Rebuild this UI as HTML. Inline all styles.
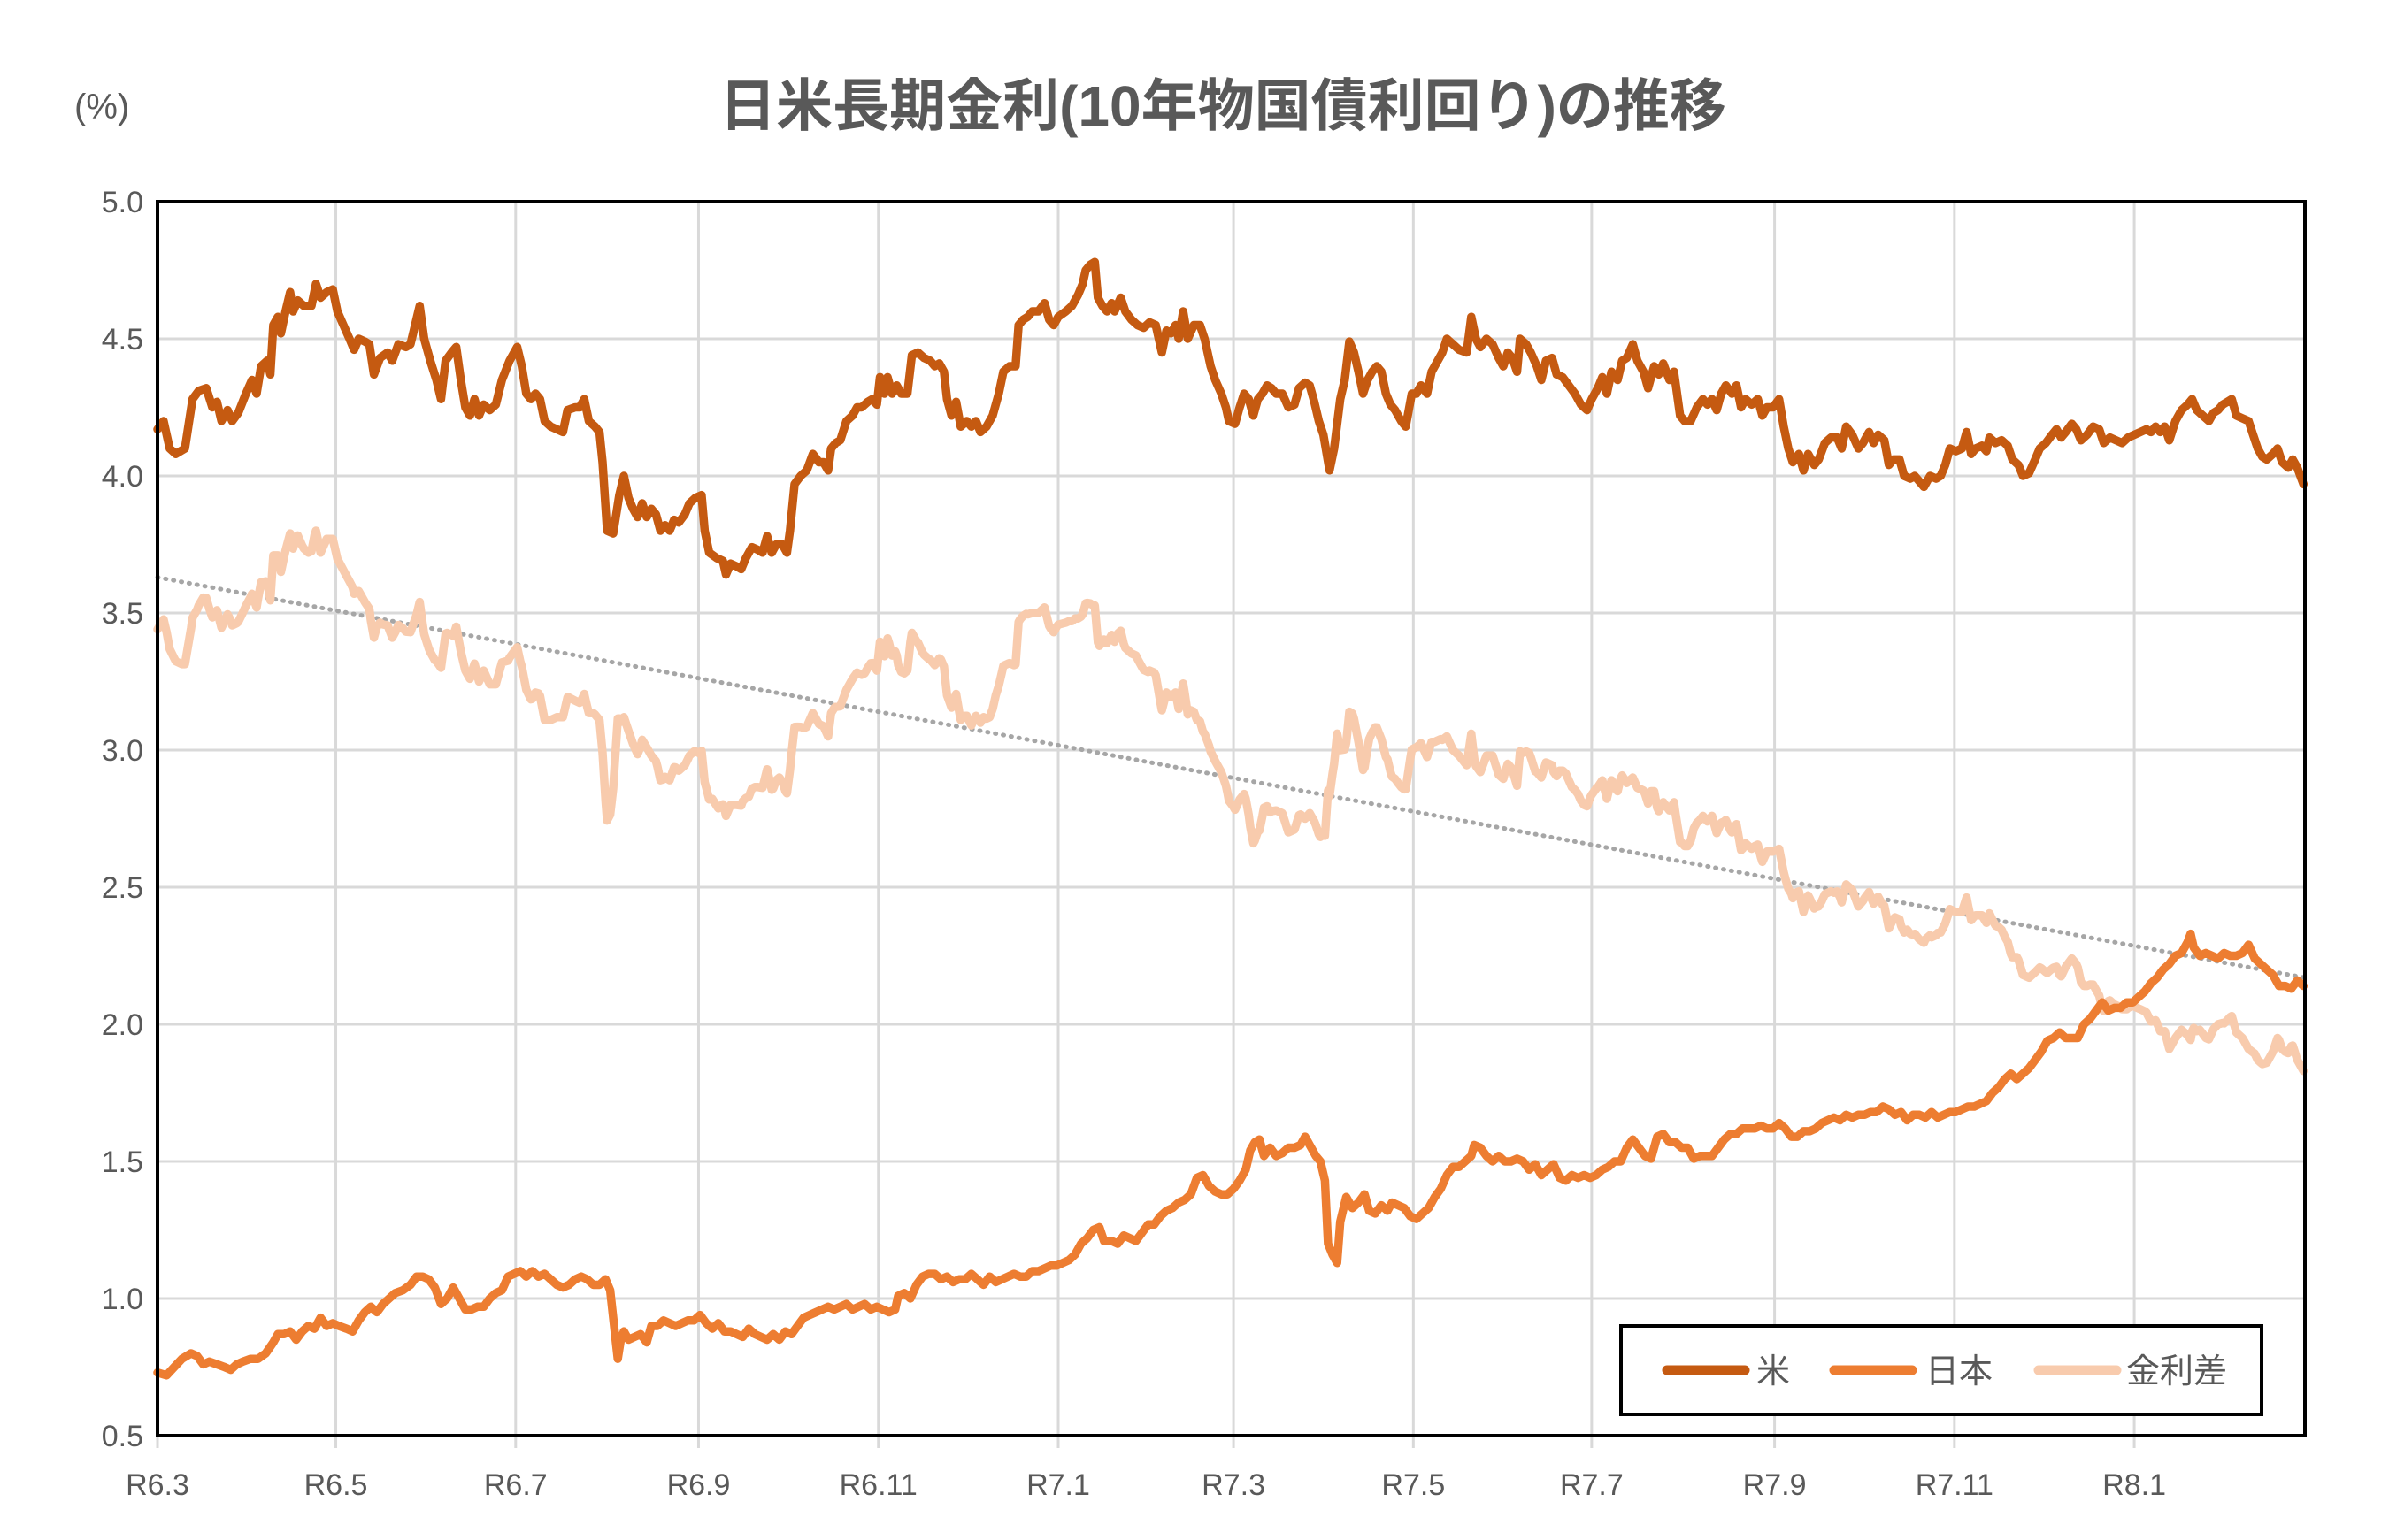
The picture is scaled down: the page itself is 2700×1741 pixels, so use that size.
<!DOCTYPE html>
<html><head><meta charset="utf-8"><style>
html,body{margin:0;padding:0;background:#fff;}
svg{display:block;}
text{font-family:"Liberation Sans","Noto Sans CJK JP",sans-serif;fill:#595959;}
</style></head><body>
<svg id="c" width="2700" height="1741" xmlns="http://www.w3.org/2000/svg"></svg>
<script>
const US=[104,4.17,108,4.2,112,4.1,116,4.08,122,4.1,127,4.28,131,4.31,136,4.32,140,4.25,143,4.27,146,4.2,150,4.24,153,4.2,157,4.23,162,4.3,166,4.35,169,4.3,172,4.4,176,4.42,178,4.37,180,4.55,183,4.58,185,4.52,188,4.6,191,4.67,193,4.6,196,4.64,200,4.62,205,4.62,208,4.7,211,4.65,215,4.67,219,4.68,222,4.6,226,4.55,230,4.5,233,4.46,236,4.5,240,4.49,243,4.48,246,4.37,250,4.43,255,4.45,258,4.42,262,4.48,267,4.47,270,4.48,273,4.55,276,4.62,279,4.5,283,4.42,287,4.35,290,4.28,293,4.42,297,4.45,300,4.47,303,4.35,306,4.25,309,4.22,312,4.28,315,4.22,318,4.26,322,4.24,326,4.26,330,4.35,335,4.42,340,4.47,343,4.4,346,4.3,349,4.28,352,4.3,355,4.28,358,4.2,362,4.18,366,4.17,370,4.16,373,4.24,378,4.25,381,4.25,384,4.28,387,4.2,391,4.18,394,4.16,396,4.05,399,3.8,403,3.79,407,3.93,410,4.0,413,3.92,416,3.88,419,3.85,422,3.9,425,3.85,428,3.88,431,3.86,434,3.8,437,3.82,440,3.8,443,3.84,446,3.83,450,3.86,453,3.9,457,3.92,461,3.93,463,3.8,466,3.72,471,3.7,475,3.69,477,3.64,480,3.68,484,3.67,487,3.66,490,3.7,494,3.74,498,3.73,501,3.72,504,3.78,507,3.72,510,3.75,514,3.75,517,3.72,519,3.8,522,3.97,526,4.0,530,4.02,534,4.08,538,4.05,541,4.05,544,4.02,546,4.1,549,4.12,552,4.13,556,4.2,560,4.22,563,4.25,566,4.25,570,4.27,573,4.28,576,4.26,578,4.36,581,4.3,583,4.36,586,4.3,589,4.33,592,4.3,596,4.3,599,4.44,603,4.45,607,4.43,611,4.42,614,4.4,617,4.41,620,4.38,622,4.28,625,4.22,628,4.27,631,4.18,635,4.2,638,4.18,641,4.2,644,4.16,648,4.18,652,4.22,656,4.3,659,4.38,663,4.4,667,4.4,669,4.55,672,4.57,675,4.58,678,4.6,682,4.6,686,4.63,689,4.57,692,4.55,695,4.58,700,4.6,704,4.62,708,4.66,711,4.7,713,4.75,716,4.77,719,4.78,721,4.65,724,4.62,727,4.6,730,4.63,732,4.6,736,4.65,739,4.6,743,4.57,747,4.55,751,4.54,755,4.56,759,4.55,763,4.45,766,4.53,769,4.52,772,4.55,774,4.5,777,4.6,780,4.5,784,4.55,788,4.55,791,4.5,795,4.4,798,4.35,802,4.3,805,4.25,807,4.2,811,4.19,814,4.25,817,4.3,820,4.28,823,4.22,826,4.28,829,4.3,832,4.33,835,4.32,838,4.3,842,4.3,846,4.25,850,4.26,853,4.32,857,4.34,860,4.33,863,4.27,866,4.2,869,4.15,873,4.02,876,4.1,880,4.28,883,4.35,886,4.49,889,4.45,892,4.38,895,4.3,898,4.35,901,4.38,904,4.4,907,4.38,910,4.3,913,4.26,916,4.24,920,4.2,923,4.18,927,4.3,930,4.3,933,4.33,937,4.3,940,4.38,944,4.42,947,4.45,950,4.5,954,4.48,958,4.46,963,4.45,966,4.58,969,4.5,972,4.47,976,4.5,980,4.48,984,4.43,987,4.4,990,4.45,993,4.43,996,4.38,998,4.5,1002,4.48,1005,4.45,1009,4.4,1012,4.35,1015,4.42,1019,4.43,1022,4.37,1026,4.36,1030,4.33,1034,4.3,1038,4.26,1042,4.24,1045,4.28,1049,4.32,1052,4.36,1055,4.3,1058,4.38,1062,4.35,1065,4.42,1068,4.43,1072,4.48,1075,4.42,1079,4.38,1082,4.32,1086,4.4,1089,4.37,1092,4.41,1096,4.35,1099,4.38,1103,4.22,1106,4.2,1110,4.2,1114,4.25,1118,4.28,1121,4.26,1124,4.28,1127,4.24,1130,4.3,1133,4.33,1137,4.3,1140,4.33,1143,4.25,1146,4.28,1150,4.26,1154,4.28,1157,4.22,1160,4.25,1164,4.25,1168,4.28,1171,4.18,1174,4.1,1177,4.05,1181,4.08,1184,4.02,1187,4.08,1191,4.04,1194,4.06,1198,4.12,1202,4.14,1206,4.14,1209,4.1,1212,4.18,1216,4.15,1220,4.1,1223,4.12,1227,4.16,1230,4.12,1233,4.15,1237,4.13,1240,4.04,1243,4.06,1247,4.06,1250,4.0,1254,3.99,1257,4.0,1260,3.98,1263,3.96,1267,4.0,1271,3.99,1274,4.0,1277,4.04,1280,4.1,1284,4.09,1288,4.1,1291,4.16,1294,4.08,1297,4.1,1301,4.11,1304,4.09,1306,4.14,1310,4.12,1314,4.13,1318,4.11,1321,4.06,1325,4.04,1328,4.0,1332,4.01,1336,4.06,1339,4.1,1343,4.12,1347,4.15,1350,4.17,1353,4.14,1356,4.16,1360,4.19,1363,4.17,1366,4.13,1370,4.15,1374,4.18,1378,4.17,1381,4.12,1385,4.14,1389,4.13,1393,4.12,1397,4.14,1401,4.15,1405,4.16,1409,4.17,1412,4.16,1415,4.18,1418,4.16,1421,4.18,1424,4.13,1428,4.2,1432,4.24,1436,4.26,1439,4.28,1442,4.24,1446,4.22,1450,4.2,1453,4.23,1456,4.24,1459,4.26,1462,4.27,1465,4.28,1468,4.22,1472,4.21,1476,4.2,1479,4.15,1482,4.1,1485,4.07,1488,4.06,1492,4.08,1495,4.1,1498,4.05,1502,4.03,1505,4.06,1508,4.03,1512,3.97];
const JP=[104,0.73,110,0.72,115,0.75,120,0.78,126,0.8,130,0.79,134,0.76,138,0.77,143,0.76,148,0.75,152,0.74,156,0.76,160,0.77,165,0.78,170,0.78,175,0.8,180,0.84,183,0.87,187,0.87,191,0.88,195,0.85,199,0.88,203,0.9,207,0.89,211,0.93,215,0.9,219,0.91,223,0.9,228,0.89,232,0.88,236,0.92,240,0.95,244,0.97,248,0.95,252,0.98,256,1.0,260,1.02,265,1.03,270,1.05,274,1.08,278,1.08,282,1.07,286,1.04,290,0.98,294,1.0,298,1.04,302,1.0,306,0.96,310,0.96,314,0.97,318,0.97,322,1.0,326,1.02,330,1.03,334,1.08,338,1.09,342,1.1,346,1.08,350,1.1,354,1.08,358,1.09,362,1.07,366,1.05,370,1.04,374,1.05,378,1.07,382,1.08,386,1.07,390,1.05,394,1.05,398,1.07,401,1.03,404,0.88,406,0.78,408,0.85,410,0.88,413,0.85,417,0.86,421,0.87,425,0.84,428,0.9,432,0.9,436,0.92,440,0.91,444,0.9,448,0.91,452,0.92,456,0.92,460,0.94,464,0.91,468,0.89,472,0.91,476,0.88,480,0.88,484,0.87,488,0.86,492,0.89,496,0.87,500,0.86,504,0.85,508,0.87,512,0.85,516,0.88,520,0.87,524,0.9,528,0.93,532,0.94,536,0.95,540,0.96,544,0.97,548,0.96,552,0.97,556,0.98,560,0.96,564,0.97,568,0.98,572,0.96,576,0.97,580,0.96,584,0.95,588,0.96,590,1.01,594,1.02,598,1.0,602,1.05,606,1.08,610,1.09,614,1.09,618,1.07,622,1.08,626,1.06,630,1.07,634,1.07,638,1.09,642,1.07,646,1.05,650,1.08,654,1.06,658,1.07,662,1.08,666,1.09,670,1.08,674,1.08,678,1.1,682,1.1,686,1.11,690,1.12,694,1.12,698,1.13,702,1.14,706,1.16,710,1.2,714,1.22,718,1.25,722,1.26,725,1.21,730,1.21,734,1.2,738,1.23,742,1.22,746,1.21,750,1.24,754,1.27,758,1.27,762,1.3,766,1.32,770,1.33,774,1.35,778,1.36,782,1.38,786,1.44,790,1.45,794,1.41,798,1.39,802,1.38,806,1.38,810,1.4,814,1.43,818,1.47,821,1.54,824,1.57,827,1.58,830,1.52,834,1.55,838,1.52,842,1.53,846,1.55,850,1.55,854,1.56,857,1.59,860,1.56,864,1.52,867,1.5,870,1.43,872,1.2,875,1.16,878,1.13,880,1.28,884,1.37,888,1.33,892,1.35,896,1.38,899,1.32,903,1.31,907,1.34,911,1.32,914,1.35,918,1.34,922,1.33,926,1.3,930,1.29,934,1.31,938,1.33,942,1.37,946,1.4,950,1.45,954,1.48,958,1.48,962,1.5,966,1.52,968,1.56,972,1.55,976,1.52,980,1.5,984,1.52,988,1.5,992,1.5,996,1.51,1000,1.5,1004,1.47,1008,1.49,1012,1.45,1016,1.47,1020,1.49,1024,1.44,1028,1.43,1032,1.45,1036,1.44,1040,1.45,1044,1.44,1048,1.45,1052,1.47,1056,1.48,1060,1.5,1064,1.5,1068,1.55,1072,1.58,1076,1.55,1080,1.52,1084,1.51,1088,1.59,1092,1.6,1096,1.57,1100,1.57,1104,1.55,1108,1.55,1112,1.51,1116,1.52,1120,1.52,1124,1.52,1128,1.55,1132,1.58,1136,1.6,1140,1.6,1144,1.62,1148,1.62,1152,1.62,1156,1.63,1160,1.62,1164,1.62,1168,1.64,1172,1.62,1176,1.59,1180,1.59,1184,1.61,1188,1.61,1192,1.62,1196,1.64,1200,1.65,1204,1.66,1208,1.65,1212,1.67,1216,1.66,1220,1.67,1224,1.67,1228,1.68,1232,1.68,1236,1.7,1240,1.69,1244,1.67,1248,1.68,1252,1.65,1256,1.67,1260,1.67,1264,1.66,1268,1.68,1272,1.66,1276,1.67,1280,1.68,1284,1.68,1288,1.69,1292,1.7,1296,1.7,1300,1.71,1304,1.72,1308,1.75,1312,1.77,1316,1.8,1320,1.82,1324,1.8,1328,1.82,1332,1.84,1336,1.87,1340,1.9,1344,1.94,1348,1.95,1352,1.97,1356,1.95,1360,1.95,1364,1.95,1368,2.0,1372,2.02,1376,2.05,1380,2.08,1384,2.05,1388,2.06,1392,2.06,1396,2.08,1400,2.08,1404,2.1,1408,2.12,1412,2.15,1416,2.17,1420,2.2,1424,2.22,1428,2.25,1432,2.26,1436,2.3,1438,2.33,1440,2.28,1444,2.25,1448,2.26,1452,2.25,1456,2.24,1460,2.26,1464,2.25,1468,2.25,1472,2.26,1476,2.29,1480,2.24,1484,2.22,1488,2.2,1492,2.18,1496,2.14,1500,2.14,1504,2.13,1508,2.16,1512,2.14];
const L=178,R=2605,T=228,B=1623;
const X=dx=>L+(dx-104)*(R-L)/(1513-104);
const Y=v=>T+(5-v)*(B-T)/4.5;
function interp(a,x){for(let i=0;i<a.length-2;i+=2){if(x<=a[i+2]){const t=(x-a[i])/(a[i+2]-a[i]);return a[i+1]+t*(a[i+3]-a[i+1]);}}return a[a.length-1];}
function path(a){let d='';for(let i=0;i<a.length;i+=2)d+=(i?'L':'M')+X(a[i]).toFixed(1)+','+Y(a[i+1]).toFixed(1);return d;}
const SP=[];const xs=new Set();for(let i=0;i<US.length;i+=2)xs.add(US[i]);for(let i=0;i<JP.length;i+=2)xs.add(JP[i]);
[...xs].sort((a,b)=>a-b).forEach(x=>{SP.push(x,interp(US,x)-interp(JP,x));});
let s='';
for(let k=0;k<=9;k++){const y=T+k*(B-T)/9;s+=`<line x1="${L}" x2="${R}" y1="${y}" y2="${y}" stroke="#d9d9d9" stroke-width="3"/>`;
 s+=`<text x="162" y="${y+12}" font-size="34" text-anchor="end">${(5-k*0.5).toFixed(1)}</text>`;}
const tk=[[104,'R6.3'],[221,'R6.5'],[339,'R6.7'],[459,'R6.9'],[577,'R6.11'],[695,'R7.1'],[810,'R7.3'],[928,'R7.5'],[1045,'R7.7'],[1165,'R7.9'],[1283,'R7.11'],[1401,'R8.1']];
tk.forEach(([dx,t])=>{const x=X(dx);s+=`<line x1="${x}" x2="${x}" y1="${T}" y2="${B+14}" stroke="#d9d9d9" stroke-width="3"/>`;
 s+=`<text x="${x}" y="1690" font-size="34" text-anchor="middle">${t}</text>`;});
s+=`<line x1="${X(104)}" y1="${Y(3.63)}" x2="${X(1513)}" y2="${Y(2.17)}" stroke="#a6a6a6" stroke-width="5" stroke-dasharray="1 8" stroke-linecap="round"/>`;
s+=`<path d="${path(SP)}" fill="none" stroke="#F8CBAD" stroke-width="9.5" stroke-linejoin="round" stroke-linecap="round"/>`;
s+=`<path d="${path(JP)}" fill="none" stroke="#ED7D31" stroke-width="9.5" stroke-linejoin="round" stroke-linecap="round"/>`;
s+=`<path d="${path(US)}" fill="none" stroke="#C55A11" stroke-width="9.5" stroke-linejoin="round" stroke-linecap="round"/>`;
s+=`<rect x="${L}" y="${T}" width="${R-L}" height="${B-T}" fill="none" stroke="#000" stroke-width="4"/>`;
s+=`<rect x="1832" y="1499" width="724" height="100" fill="#fff" stroke="#000" stroke-width="4"/>`;
[[1879,'#C55A11','米',1985],[2068,'#ED7D31','日本',2176],[2299,'#F8CBAD','金利差',2403]].forEach(([x,c,t,tx])=>{
 s+=`<line x1="${x+5}" x2="${x+93}" y1="1549" y2="1549" stroke="${c}" stroke-width="11" stroke-linecap="round"/>`;
 s+=`<text x="${tx}" y="1563" font-size="38">${t}</text>`;});
s+=`<text x="1382" y="142" font-size="64" font-weight="bold" text-anchor="middle">日米長期金利(10年物国債利回り)の推移</text>`;
s+=`<text x="84" y="134" font-size="40">(%)</text>`;
document.getElementById('c').innerHTML=s;
</script>
</body></html>
